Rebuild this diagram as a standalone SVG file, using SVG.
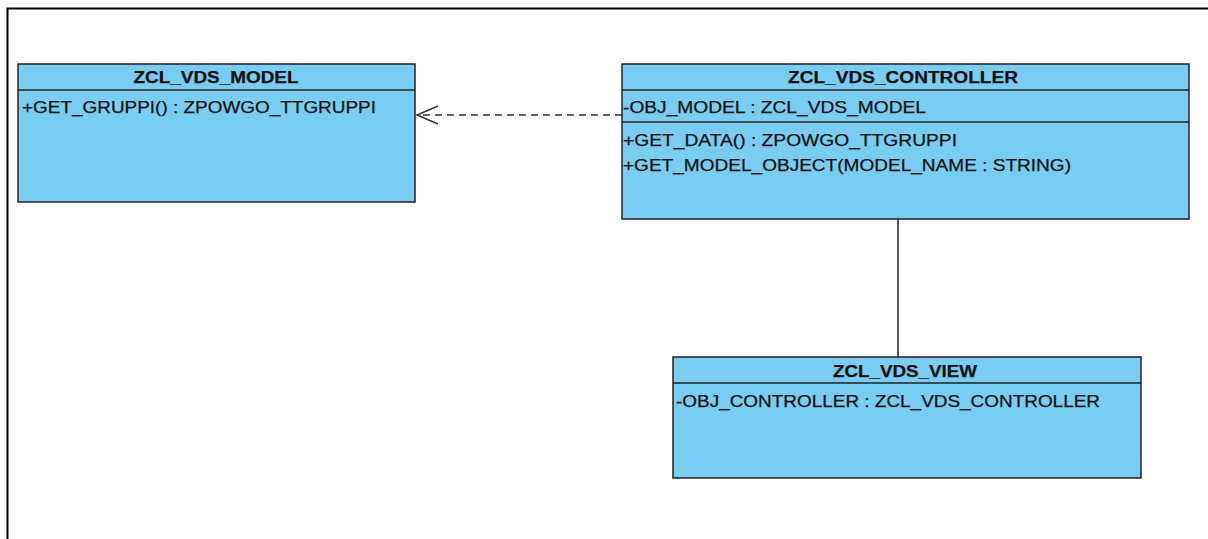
<svg xmlns="http://www.w3.org/2000/svg" width="1208" height="539" viewBox="0 0 1208 539">
<defs>
<style>
.box{fill:#7acdf2;stroke:#222;stroke-width:1.5}
.div{stroke:#222;stroke-width:1.5}
.t{font-family:"Liberation Sans",Arial,sans-serif;font-size:16.5px;fill:#111;stroke:#111;stroke-width:0.25}
.b{font-weight:bold;text-anchor:middle}
.head{fill:none;stroke:#333;stroke-width:1.5}
</style>
<marker id="open" markerWidth="24" markerHeight="22" refX="22" refY="11" orient="auto" markerUnits="userSpaceOnUse" overflow="visible">
<path class="head" d="M1,2 L22,11 L1,20"/>
</marker>
</defs>
<rect width="1208" height="539" fill="#fff"/>
<path d="M7.5,539 V8.5 H1208" fill="none" stroke="#000" stroke-width="2"/>
<g id="connectors">
<line x1="622" y1="115" x2="417" y2="115" stroke="#333" stroke-width="1.6" stroke-dasharray="7,5" marker-end="url(#open)"/>
<line x1="898" y1="219" x2="898" y2="357" stroke="#222" stroke-width="1.5"/>
</g>
<g id="zcl_vds_model">
<rect class="box" x="18" y="64" width="397" height="138"/>
<line class="div" x1="18" y1="90" x2="415" y2="90"/>
<text class="t b" x="216" y="83" textLength="165" lengthAdjust="spacingAndGlyphs">ZCL_VDS_MODEL</text>
<text class="t" x="22" y="113" textLength="354" lengthAdjust="spacingAndGlyphs">+GET_GRUPPI() : ZPOWGO_TTGRUPPI</text>
</g>
<g id="zcl_vds_controller">
<rect class="box" x="622" y="64" width="567" height="155"/>
<line class="div" x1="622" y1="90" x2="1189" y2="90"/>
<line class="div" x1="622" y1="122" x2="1189" y2="122"/>
<text class="t b" x="903" y="83" textLength="230" lengthAdjust="spacingAndGlyphs">ZCL_VDS_CONTROLLER</text>
<text class="t" x="623" y="113" textLength="303" lengthAdjust="spacingAndGlyphs">-OBJ_MODEL : ZCL_VDS_MODEL</text>
<text class="t" x="623" y="146" textLength="334" lengthAdjust="spacingAndGlyphs">+GET_DATA() : ZPOWGO_TTGRUPPI</text>
<text class="t" x="623" y="171" textLength="448" lengthAdjust="spacingAndGlyphs">+GET_MODEL_OBJECT(MODEL_NAME : STRING)</text>
</g>
<g id="zcl_vds_view">
<rect class="box" x="673" y="357" width="468" height="121"/>
<line class="div" x1="673" y1="383" x2="1141" y2="383"/>
<text class="t b" x="905" y="377" textLength="144" lengthAdjust="spacingAndGlyphs">ZCL_VDS_VIEW</text>
<text class="t" x="676" y="407" textLength="424" lengthAdjust="spacingAndGlyphs">-OBJ_CONTROLLER : ZCL_VDS_CONTROLLER</text>
</g>
</svg>
